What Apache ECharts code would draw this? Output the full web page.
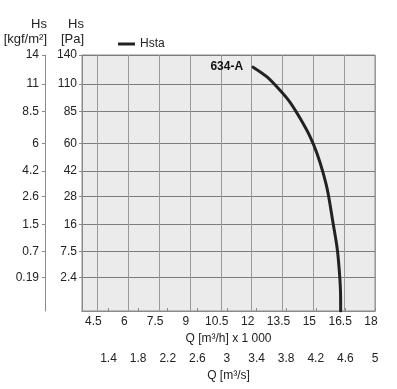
<!DOCTYPE html>
<html><head><meta charset="utf-8">
<script src="https://cdn.jsdelivr.net/npm/echarts@6/dist/echarts.min.js"></script>
<style>html,body{margin:0;padding:0;background:#fff}#c{width:397px;height:389px}</style>
</head><body><div id="c"></div>
<script>
// Curve data: flow Q [m3/h x 1000] and static pressure Hs [Pa]
const flowM3h   = [12.07, 12.75, 13.38, 13.87, 14.35, 14.84, 15.18, 15.47, 15.71, 15.96, 16.15, 16.25, 16.32, 16.33];
const pressurePa = [127, 117, 104, 93, 79.5, 65, 53, 41, 30, 16.5, 8.8, 4.1, 0.9, 0];
// Tick labels
const paTicks  = [2.4, 7.5, 16, 28, 42, 60, 85, 110, 140];
const kgfTicks = ['0.19', '0.7', '1.5', '2.6', '4.2', '6', '8.5', '11', '14'];
const qM3hTicks = [4.5, 6, 7.5, 9, 10.5, 12, 13.5, 15, 16.5, 18];
const qM3sTicks = [1.4, 1.8, 2.2, 2.6, 3, 3.4, 3.8, 4.2, 4.6, 5];
const seriesName = 'Hsta';
const curveLabel = '634-A';
const Q_MIN = 3.75, Q_MAX = 18, P_MAX = 140;

const FONT = '"Liberation Sans", Arial, sans-serif';
const sq = v => Math.sqrt(v);
const ySqrtTicks = paTicks.map(sq);
function tickIndex(v) {
  let best = 0, d = Infinity;
  ySqrtTicks.forEach((t, i) => { const dd = Math.abs(t - v); if (dd < d) { d = dd; best = i; } });
  return best;
}
const grid = '#8a8a8a';
const chart = echarts.init(document.getElementById('c'), null, {renderer: 'canvas'});
const data = flowM3h.map((q, i) => {
  const item = {value: [q, sq(pressurePa[i])]};
  if (i === 0) item.label = {show: true, formatter: curveLabel, position: 'left', distance: 10,
    fontWeight: 'bold', fontSize: 12, color: '#111', fontFamily: FONT};
  return item;
});
chart.setOption({
  animation: false,
  textStyle: {fontFamily: FONT},
  grid: {left: 82, right: 22, top: 55, bottom: 78, show: true, backgroundColor: '#ebebeb', borderColor: grid, borderWidth: 1},
  legend: {left: 113, top: 33, icon: 'rect', itemWidth: 17, itemHeight: 3, itemGap: 5,
    textStyle: {fontSize: 12, color: '#222', fontFamily: FONT}, data: [seriesName]},
  xAxis: [{
    type: 'value', min: Q_MIN, max: Q_MAX, position: 'bottom',
    axisLine: {show: true, lineStyle: {color: grid}},
    axisTick: {show: false, customValues: qM3hTicks},
    axisLabel: {customValues: qM3hTicks, margin: 5, fontSize: 12, color: '#222', padding: [0, 8, 0, 0], fontFamily: FONT},
    splitLine: {show: true, lineStyle: {color: '#999', width: 1}},
    name: 'Q [m³/h] x 1 000', nameLocation: 'middle', nameGap: 20,
    nameTextStyle: {fontSize: 12, color: '#222', fontFamily: FONT}
  }, {
    type: 'value', min: Q_MIN / 3.6, max: Q_MAX / 3.6, position: 'bottom', offset: 37,
    axisLine: {show: true, lineStyle: {color: grid}},
    axisTick: {show: true, inside: true, length: 3, customValues: qM3sTicks, lineStyle: {color: grid}},
    axisLabel: {customValues: qM3sTicks, margin: 5, fontSize: 12, color: '#222', fontFamily: FONT},
    splitLine: {show: false},
    name: 'Q [m³/s]', nameLocation: 'middle', nameGap: 20,
    nameTextStyle: {fontSize: 12, color: '#222', fontFamily: FONT}
  }],
  yAxis: [{
    type: 'value', min: 0, max: sq(P_MAX), position: 'left',
    axisLine: {show: true, lineStyle: {color: grid}},
    axisTick: {show: true, length: 3, customValues: ySqrtTicks, lineStyle: {color: grid}},
    axisLabel: {customValues: ySqrtTicks, margin: 5, fontSize: 12, color: '#222', fontFamily: FONT,
      formatter: v => String(paTicks[tickIndex(v)])},
    splitLine: {show: true, lineStyle: {color: '#7c7c7c', width: 1}},
    name: 'Hs\n[Pa]', nameLocation: 'end', nameGap: 8,
    nameTextStyle: {align: 'right', verticalAlign: 'bottom', lineHeight: 15, fontSize: 13, color: '#222', padding: [0, -2, 0, 0], fontFamily: FONT}
  }, {
    type: 'value', min: 0, max: sq(P_MAX), position: 'left', offset: 37,
    axisLine: {show: true, lineStyle: {color: grid}},
    axisTick: {show: true, length: 3, customValues: ySqrtTicks, lineStyle: {color: grid}},
    axisLabel: {customValues: ySqrtTicks, margin: 6, fontSize: 12, color: '#222', fontFamily: FONT,
      formatter: v => kgfTicks[tickIndex(v)]},
    splitLine: {show: false},
    name: 'Hs\n[kgf/m²]', nameLocation: 'end', nameGap: 8,
    nameTextStyle: {align: 'right', verticalAlign: 'bottom', lineHeight: 15, fontSize: 13, color: '#222', padding: [0, -2, 0, 0], fontFamily: FONT}
  }],
  series: [{
    name: seriesName, type: 'line', xAxisIndex: 0, yAxisIndex: 0,
    smooth: 0.3, symbol: 'circle', symbolSize: 0, showSymbol: true,
    lineStyle: {color: '#222', width: 3, cap: 'round', join: 'round'}, itemStyle: {color: '#222'},
    data: data
  }]
});
</script></body></html>
